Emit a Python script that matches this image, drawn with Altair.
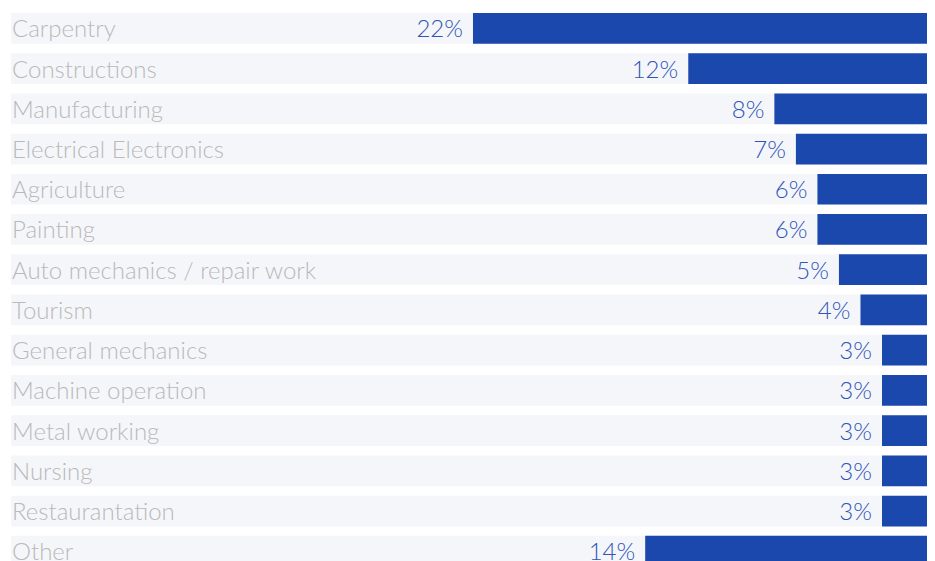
import altair as alt
import pandas as pd

categories = ["Carpentry", "Constructions", "Manufacturing", "Electrical Electronics",
              "Agriculture", "Painting", "Auto mechanics / repair work", "Tourism",
              "General mechanics", "Machine operation", "Metal working", "Nursing",
              "Restaurantation", "Other"]
values = [22, 12, 8, 7, 6, 6, 5, 4, 3, 3, 3, 3, 3, 14]

X_MIN, X_MAX = 0.91, 43.46

df = pd.DataFrame({
    "category": categories,
    "value": values,
    "label": [f"{v}%" for v in values],
    "zero": [0] * len(values),
    "full": [X_MAX] * len(values),
})

xscale = alt.Scale(domain=[X_MIN, X_MAX], reverse=True, nice=False, zero=False)
yenc = alt.Y("category:N", sort=categories, axis=None,
             scale=alt.Scale(range=[0, 553.6], paddingInner=0.236, paddingOuter=0))

base = alt.Chart(df)

band = base.mark_bar(color="#f5f6fa", clip=True).encode(
    x=alt.X("zero:Q", scale=xscale, axis=None),
    x2="full:Q",
    y=yenc,
)

bars = base.mark_bar(color="#1b48ad", clip=True).encode(
    x=alt.X("zero:Q", scale=xscale, axis=None),
    x2="value:Q",
    y=yenc,
)

cat_text = base.mark_text(align="left", baseline="alphabetic", dy=9,
                          font="Lato", fontWeight=300, fontSize=24,
                          color="#b9b9b9", clip=True).encode(
    x=alt.value(1),
    y=yenc,
    text="category:N",
)

pct_text = base.mark_text(align="right", baseline="alphabetic", dy=9, dx=-10,
                          font="Lato", fontWeight=300, fontSize=24,
                          color="#2e55b8", clip=True).encode(
    x=alt.X("value:Q", scale=xscale, axis=None),
    y=yenc,
    text="label:N",
)

chart = alt.layer(band, bars, cat_text, pct_text).properties(
    width=916, height=548,
    autosize=alt.AutoSizeParams(type="none"),
    padding={"left": 3, "top": 5, "right": 0, "bottom": 0},
).configure_view(strokeWidth=0)

chart.save("out.html", embed_options={"renderer": "svg", "actions": False})
